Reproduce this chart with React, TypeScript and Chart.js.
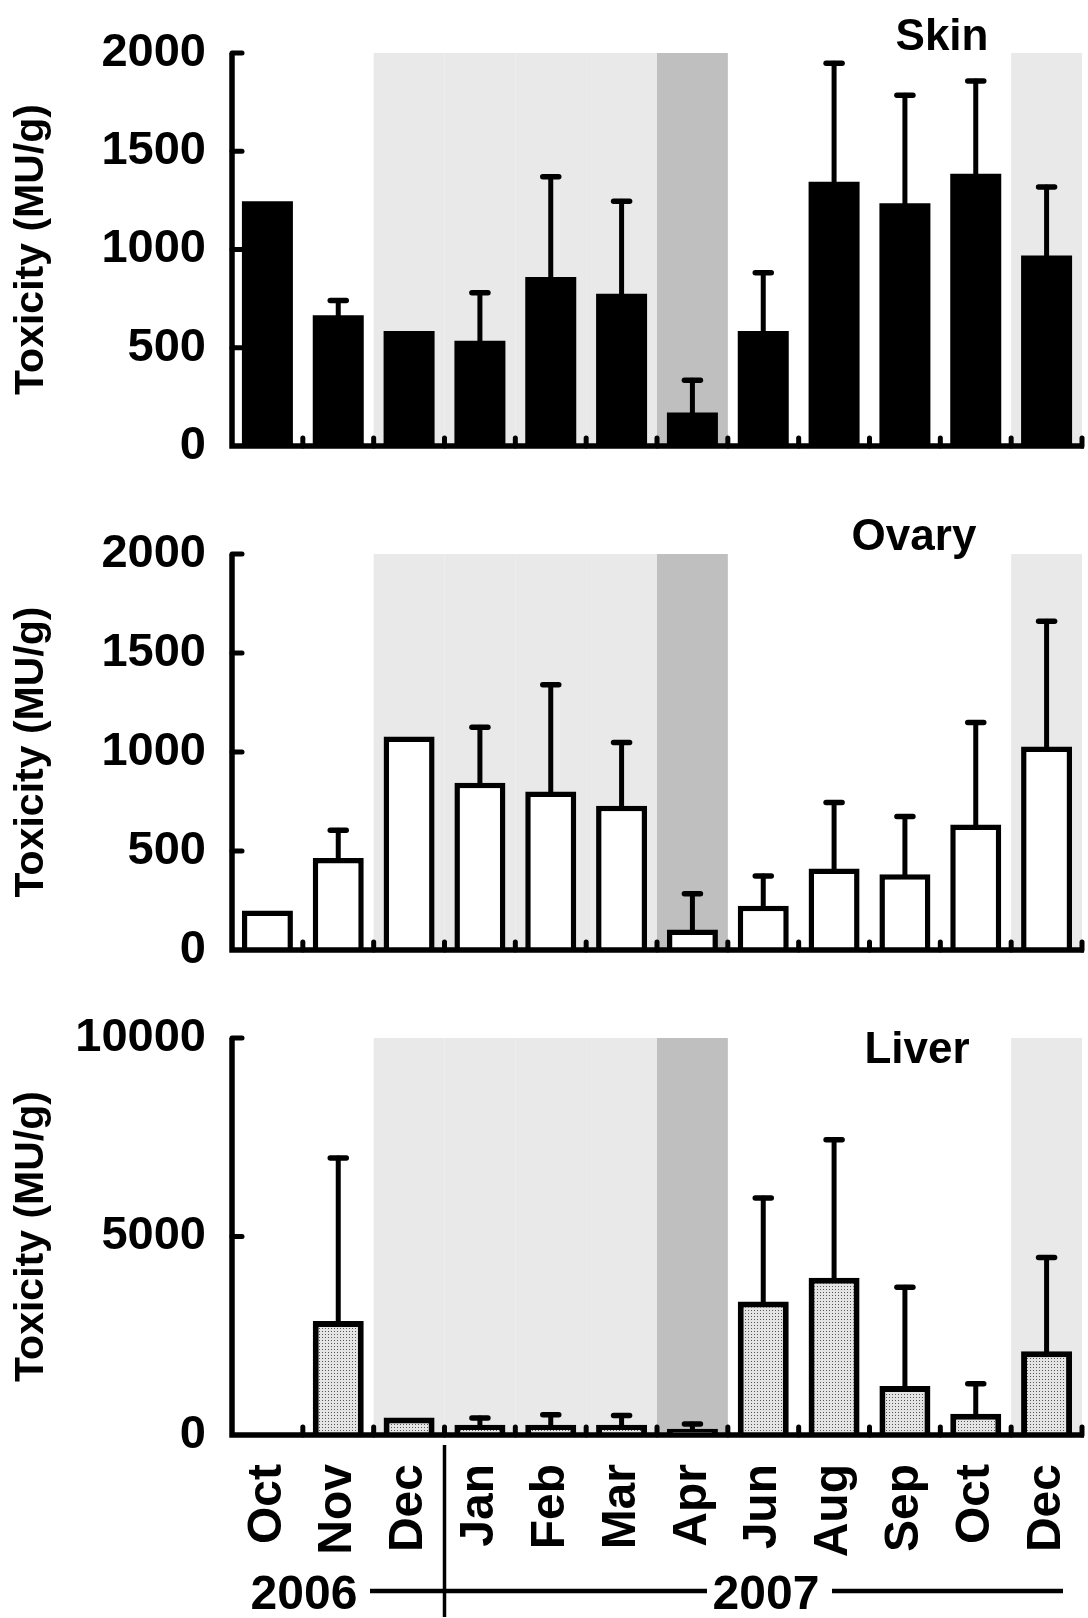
import React, { useEffect, useRef } from 'react';
import { Chart, registerables } from 'chart.js';

Chart.register(...registerables);

// ---------------- data ----------------
const months = ['Oct', 'Nov', 'Dec', 'Jan', 'Feb', 'Mar', 'Apr', 'Jun', 'Aug', 'Sep', 'Oct', 'Dec'];

const skinMean = [1245, 665, 585, 535, 860, 775, 170, 585, 1345, 1235, 1385, 970];
const skinSD = [0, 75, 0, 245, 510, 470, 165, 297, 603, 550, 472, 348];

const ovaryMean = [200, 465, 1078, 845, 800, 728, 104, 224, 412, 382, 634, 1028];
const ovarySD = [0, 140, 0, 280, 540, 320, 180, 150, 333, 292, 515, 632];

const liverMean = [0, 2870, 440, 256, 256, 256, 155, 3360, 3960, 1235, 535, 2110];
const liverSD = [0, 4110, 0, 174, 254, 234, 125, 2610, 3480, 2485, 755, 2360];

const skinTicks = [0, 500, 1000, 1500, 2000];
const ovaryTicks = [0, 500, 1000, 1500, 2000];
const liverTicks = [0, 5000, 10000];

const lightShade = [2, 3, 4, 5, 11];
const darkShade = [6];
const yearLabels = ['2006', '2007'];
const yTitle = 'Toxicity (MU/g)';

// ---------------- styling ----------------
const FONT = '"Liberation Sans", Arial, Helvetica, sans-serif';
const W = 1088;

type Panel = {
  title: string;
  mean: number[];
  sd: number[];
  ticks: number[];
  kind: 'solid' | 'open' | 'dots';
  canvasTop: number;
  height: number;
  areaTop: number;
  areaBottom: number;
  titleX: number;
  titleY: number;
  showX: boolean;
};

const panels: Panel[] = [
  { title: 'Skin', mean: skinMean, sd: skinSD, ticks: skinTicks, kind: 'solid', canvasTop: 0, height: 500, areaTop: 53, areaBottom: 446, titleX: 942, titleY: 50, showX: false },
  { title: 'Ovary', mean: ovaryMean, sd: ovarySD, ticks: ovaryTicks, kind: 'open', canvasTop: 500, height: 500, areaTop: 54, areaBottom: 450, titleX: 914, titleY: 50, showX: false },
  { title: 'Liver', mean: liverMean, sd: liverSD, ticks: liverTicks, kind: 'dots', canvasTop: 1000, height: 618, areaTop: 38, areaBottom: 435, titleX: 917, titleY: 63, showX: true },
];

function makeDotPattern(): CanvasPattern | string {
  const c = document.createElement('canvas');
  c.width = 3;
  c.height = 3;
  const g = c.getContext('2d');
  if (!g) return '#d0d0d0';
  g.fillStyle = '#e4e4e4';
  g.fillRect(0, 0, 3, 3);
  g.fillStyle = '#555555';
  g.fillRect(1, 1, 1, 1);
  const p = g.createPattern(c, 'repeat');
  return p || '#d0d0d0';
}

function PanelChart({ p }: { p: Panel }) {
  const ref = useRef<HTMLCanvasElement | null>(null);

  useEffect(() => {
    const canvas = ref.current;
    if (!canvas) return;

    let bg: any = '#000';
    let bw = 0;
    if (p.kind === 'open') { bg = '#ffffff'; bw = 5.5; }
    if (p.kind === 'dots') { bg = makeDotPattern(); bw = 6; }

    const deco = {
      id: 'deco',
      beforeDatasetsDraw(chart: any) {
        const { ctx, chartArea } = chart;
        const x = chart.scales.x;
        const cw = x.getPixelForValue(1) - x.getPixelForValue(0);
        ctx.save();
        ctx.fillStyle = '#e9e9e9';
        lightShade.forEach((i) => {
          ctx.fillRect(x.getPixelForValue(i) - cw / 2, chartArea.top, cw, chartArea.bottom - chartArea.top);
        });
        ctx.fillStyle = '#bfbfbf';
        darkShade.forEach((i) => {
          ctx.fillRect(x.getPixelForValue(i) - cw / 2, chartArea.top, cw, chartArea.bottom - chartArea.top);
        });
        ctx.restore();
      },
      afterDatasetsDraw(chart: any) {
        const { ctx, chartArea } = chart;
        const x = chart.scales.x;
        const y = chart.scales.y;
        const cw = x.getPixelForValue(1) - x.getPixelForValue(0);
        const { left, right, top, bottom } = chartArea;
        ctx.save();
        ctx.strokeStyle = '#000';
        ctx.lineCap = 'round';
        // error bars (upper only)
        const meta = chart.getDatasetMeta(0);
        meta.data.forEach((bar: any, i: number) => {
          const s = p.sd[i];
          if (!s) return;
          const yBar = y.getPixelForValue(p.mean[i]);
          const yTop = y.getPixelForValue(p.mean[i] + s);
          ctx.lineWidth = 5;
          ctx.beginPath();
          ctx.moveTo(bar.x, yBar);
          ctx.lineTo(bar.x, yTop);
          ctx.stroke();
          ctx.lineWidth = 5.5;
          ctx.beginPath();
          ctx.moveTo(bar.x - 8, yTop);
          ctx.lineTo(bar.x + 8, yTop);
          ctx.stroke();
        });
        // axes
        ctx.lineWidth = 5.5;
        ctx.lineCap = 'butt';
        ctx.beginPath();
        ctx.moveTo(left, top);
        ctx.lineTo(left, bottom + 2.75);
        ctx.moveTo(left - 2.75, bottom);
        ctx.lineTo(right + 2, bottom);
        ctx.stroke();
        ctx.lineCap = 'round';
        ctx.lineWidth = 5;
        p.ticks.forEach((v) => {
          const py = y.getPixelForValue(v);
          if (v === 0) return;
          ctx.beginPath();
          ctx.moveTo(left, py);
          ctx.lineTo(left + 10, py);
          ctx.stroke();
        });
        for (let i = 1; i <= months.length; i++) {
          const bx = x.getPixelForValue(i - 1) + cw / 2;
          ctx.beginPath();
          ctx.moveTo(bx, bottom);
          ctx.lineTo(bx, bottom - 8);
          ctx.stroke();
        }
        ctx.restore();
      },
      afterDraw(chart: any) {
        const { ctx, chartArea } = chart;
        ctx.save();
        ctx.fillStyle = '#000';
        ctx.font = `bold 44px ${FONT}`;
        ctx.textAlign = 'center';
        ctx.textBaseline = 'alphabetic';
        ctx.fillText(p.title, p.titleX, p.titleY);
        if (p.showX) {
          const x = chart.scales.x;
          const cw = x.getPixelForValue(1) - x.getPixelForValue(0);
          const sep = x.getPixelForValue(2) + cw / 2;
          ctx.font = `bold 48px ${FONT}`;
          ctx.fillText(yearLabels[0], 304, 609);
          ctx.fillText(yearLabels[1], 766, 609);
          ctx.strokeStyle = '#000';
          ctx.lineWidth = 4.5;
          ctx.beginPath();
          ctx.moveTo(370, 591);
          ctx.lineTo(707, 591);
          ctx.moveTo(832, 591);
          ctx.lineTo(1063, 591);
          ctx.stroke();
          ctx.lineWidth = 3.5;
          ctx.beginPath();
          ctx.moveTo(sep, chartArea.bottom + 10);
          ctx.lineTo(sep, 617);
          ctx.stroke();
        }
        ctx.restore();
      },
    };

    const chart = new Chart(canvas, {
      type: 'bar',
      data: {
        labels: months,
        datasets: [
          {
            data: p.mean,
            backgroundColor: bg,
            borderColor: '#000',
            borderWidth: bw,
            borderSkipped: 'start',
            barPercentage: 0.72,
            categoryPercentage: 1,
          } as any,
        ],
      },
      options: {
        responsive: false,
        animation: false,
        devicePixelRatio: 1,
        layout: { padding: { left: 0, right: 6, top: p.areaTop, bottom: 0 } },
        plugins: { legend: { display: false }, tooltip: { enabled: false }, title: { display: false } },
        scales: {
          x: {
            type: 'category',
            offset: true,
            grid: { display: false, drawTicks: false },
            border: { display: false },
            ticks: {
              display: p.showX,
              autoSkip: false,
              minRotation: 90,
              maxRotation: 90,
              padding: 29,
              color: '#000',
              font: { family: FONT, size: 48, weight: 'bold' },
            },
            afterFit: (s: any) => {
              s.height = p.height - p.areaBottom;
              s.paddingLeft = 0;
              s.paddingRight = 0;
              s.paddingTop = 0;
              s.paddingBottom = 0;
            },
          } as any,
          y: {
            min: p.ticks[0],
            max: p.ticks[p.ticks.length - 1],
            grid: { display: false, drawTicks: false },
            border: { display: false },
            afterBuildTicks: (s: any) => {
              s.ticks = p.ticks.map((v) => ({ value: v }));
            },
            ticks: {
              padding: 26,
              color: '#000',
              font: { family: FONT, size: 47, weight: 'bold' },
              callback: (v: any) => String(v),
            },
            title: {
              display: true,
              text: yTitle,
              color: '#000',
              font: { family: FONT, size: 41, weight: 'bold' },
              padding: { top: 7, bottom: 0 },
            },
            afterFit: (s: any) => {
              s.width = 232;
              s.paddingTop = 0;
              s.paddingBottom = 0;
              s.paddingLeft = 0;
              s.paddingRight = 0;
            },
          } as any,
        },
      },
      plugins: [deco],
    });

    return () => chart.destroy();
  }, [p]);

  return (
    <canvas
      ref={ref}
      width={W}
      height={p.height}
      style={{ position: 'absolute', left: 0, top: p.canvasTop, width: W, height: p.height, display: 'block' }}
    />
  );
}

export default function App() {
  return (
    <div style={{ position: 'absolute', left: 0, top: 0, width: W, height: 1618, background: '#fff' }}>
      {panels.map((p) => (
        <PanelChart key={p.title} p={p} />
      ))}
    </div>
  );
}
